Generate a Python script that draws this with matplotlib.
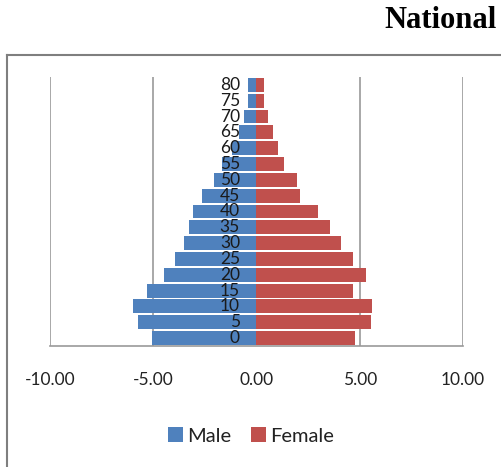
import matplotlib.pyplot as plt
from matplotlib.lines import Line2D

# age groups and percentage of population by sex
ages = ['0', '5', '10', '15', '20', '25', '30', '35', '40',
        '45', '50', '55', '60', '65', '70', '75', '80']
male = [5.05, 5.76, 6.00, 5.28, 4.47, 3.95, 3.50, 3.29, 3.08,
        2.62, 2.07, 1.65, 1.20, 0.86, 0.60, 0.39, 0.39]
female = [4.79, 5.55, 5.60, 4.66, 5.31, 4.66, 4.08, 3.57, 2.99,
          2.12, 1.97, 1.31, 1.02, 0.81, 0.55, 0.35, 0.37]
xticks = [-10, -5, 0, 5, 10]

blue = '#4F81BD'
red = '#C0504D'
grid_col = '#999999'

fig = plt.figure(figsize=(5.02, 4.67), dpi=100)
ax = fig.add_axes([0.0996, 0.2591, 0.8227, 0.5761])

pos = list(range(len(ages)))
ax.barh(pos, [-m for m in male], height=0.88, color=blue, label='Male', zorder=2)
ax.barh(pos, female, height=0.88, color=red, label='Female', zorder=2)

ax.set_xlim(-10, 10)
ax.set_ylim(-0.5, len(ages) - 0.5)

# vertical gridlines, skipping the centre one
for v in xticks:
    if v != 0:
        ax.axvline(v, color=grid_col, lw=1.2, zorder=1)

for s in ['top', 'left', 'right']:
    ax.spines[s].set_visible(False)
ax.spines['bottom'].set_color(grid_col)
ax.spines['bottom'].set_linewidth(1.2)

ax.set_xticks(xticks)
ax.set_xticklabels(['%.2f' % v for v in xticks], fontfamily='Lato',
                   fontsize=12.5, color='#222222')
ax.tick_params(axis='x', length=0, pad=19)
ax.set_yticks([])

# age labels sit just left of the centre line
for i, a in enumerate(ages):
    ax.text(-0.8, i, a, ha='right', va='center', fontfamily='Lato',
            fontsize=12.5, color='#1a1a1a', zorder=3)

leg = fig.legend(loc='center', bbox_to_anchor=(0.5, 0.066), ncol=2,
                 frameon=False, prop={'family': 'Lato', 'size': 14.5},
                 handlelength=0.75, handleheight=0.75, handletextpad=0.2,
                 columnspacing=1.0)
for t in leg.get_texts():
    t.set_color('#222222')

# outer chart frame (top and left edges)
W, H = 502.0, 467.0
fig.add_artist(Line2D([7.5 / W, 7.5 / W], [0, 1 - 55 / H],
                      color='#7f7f7f', lw=1.5, transform=fig.transFigure))
fig.add_artist(Line2D([7.5 / W, 1], [1 - 55 / H, 1 - 55 / H],
                      color='#7f7f7f', lw=1.5, transform=fig.transFigure))

fig.text(0.99, 0.957, 'National', ha='right', va='center',
         fontfamily='Liberation Serif', fontweight='bold', fontsize=22)

plt.savefig('out.png', dpi=100)
plt.close()
